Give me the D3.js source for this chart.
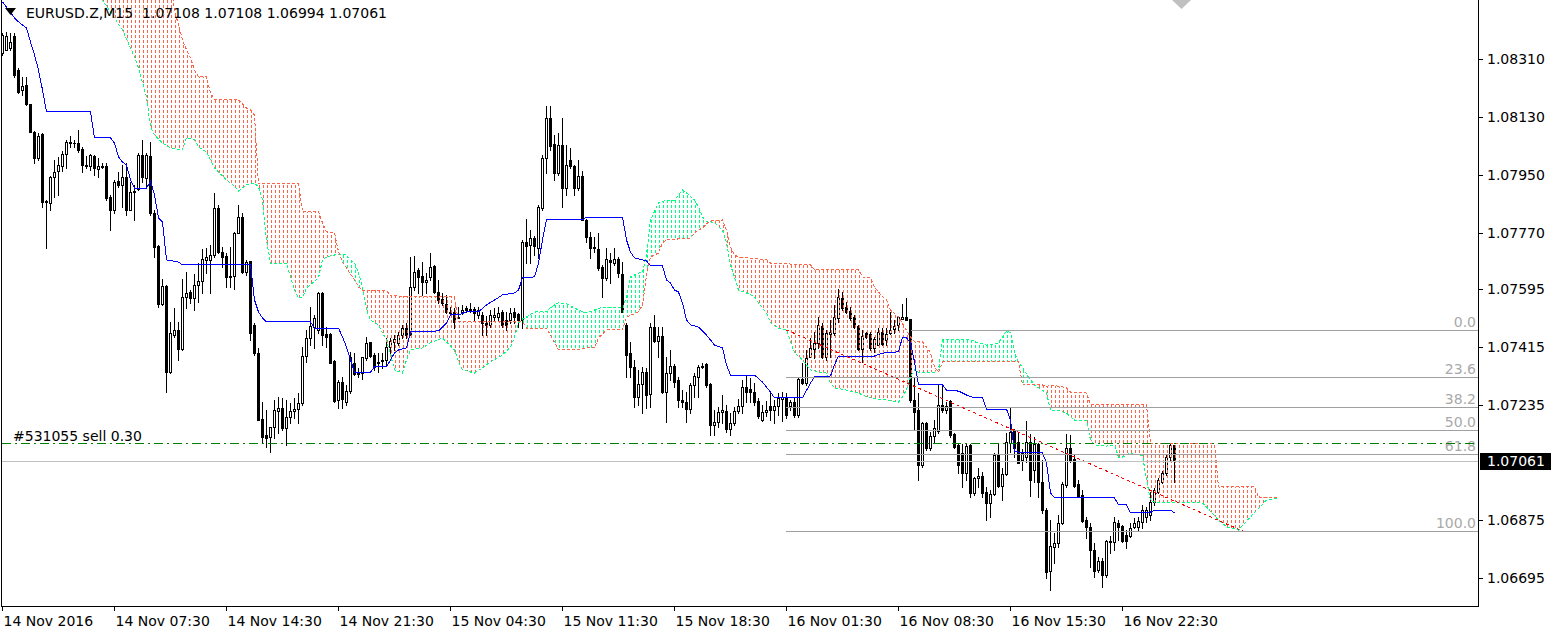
<!DOCTYPE html>
<html><head><meta charset="utf-8">
<script src="https://cdn.jsdelivr.net/npm/d3@7/dist/d3.min.js"></script>
<style>
body{margin:0;background:#fff;}
svg{display:block;}
text{font-family:"DejaVu Sans",sans-serif;font-size:14px;white-space:pre;}
</style>
</head><body>
<svg id="c" width="1557" height="633"></svg>
<script>
// ---------- DATA ----------
const opens=[1.08328,1.08338,1.08344,1.08381,1.08275,1.08213,1.08229,1.08170,1.08083,1.08002,
1.08076,1.07865,1.07862,1.07943,1.07961,1.07977,1.08014,1.08052,1.08048,1.08048,
1.08030,1.07977,1.07977,1.08008,1.07968,1.07977,1.07977,1.07880,1.07840,1.07930,
1.07918,1.07943,1.07840,1.07896,1.07905,1.08011,1.07940,1.08008,1.07831,1.07728,
1.07548,1.07604,1.07336,1.07451,1.07467,1.07408,1.07570,1.07585,1.07566,1.07607,
1.07619,1.07685,1.07685,1.07700,1.07846,1.07709,1.07697,1.07632,1.07635,1.07769,
1.07818,1.07647,1.07682,1.07483,1.07395,1.07190,1.07141,1.07134,1.07165,1.07215,
1.07224,1.07162,1.07196,1.07215,1.07221,1.07240,1.07386,1.07442,1.07476,1.07467,
1.07582,1.07455,1.07455,1.07371,1.07249,1.07305,1.07243,1.07277,1.07364,1.07333,
1.07333,1.07380,1.07430,1.07389,1.07364,1.07374,1.07374,1.07414,1.07430,1.07427,
1.07451,1.07473,1.07455,1.07601,1.07654,1.07635,1.07616,1.07632,1.07666,1.07585,
1.07563,1.07548,1.07523,1.07523,1.07504,1.07523,1.07535,1.07529,1.07532,1.07514,
1.07514,1.07489,1.07483,1.07507,1.07507,1.07523,1.07498,1.07498,1.07523,1.07517,
1.07498,1.07741,1.07731,1.07753,1.07722,1.07846,1.08002,1.08126,1.08045,1.07955,
1.08042,1.07908,1.07996,1.07977,1.07908,1.07946,1.07809,1.07756,1.07725,1.07719,
1.07663,1.07629,1.07685,1.07675,1.07688,1.07641,1.07483,1.07395,1.07352,1.07259,
1.07299,1.07336,1.07268,1.07476,1.07433,1.07448,1.07274,1.07333,1.07355,1.07312,
1.07249,1.07243,1.07221,1.07296,1.07321,1.07352,1.07361,1.07299,1.07172,1.07181,
1.07212,1.07215,1.07159,1.07178,1.07215,1.07231,1.07290,1.07284,1.07274,1.07246,
1.07187,1.07212,1.07231,1.07218,1.07231,1.07252,1.07259,1.07231,1.07243,1.07203,
1.07315,1.07302,1.07383,1.07408,1.07427,1.07479,1.07383,1.07455,1.07458,1.07504,
1.07566,1.07538,1.07526,1.07507,1.07479,1.07408,1.07458,1.07455,1.07411,1.07420,
1.07461,1.07436,1.07458,1.07470,1.07483,1.07501,1.07507,1.07501,1.07249,1.07218,
1.07047,1.07178,1.07100,1.07137,1.07153,1.07234,1.07218,1.07246,1.07144,1.07109,
1.07085,1.07022,1.07109,1.06960,1.07007,1.07013,1.06963,1.06929,1.06957,1.07078,
1.06982,1.07019,1.07116,1.07156,1.07119,1.07063,1.07072,1.07119,1.07032,1.07113,
1.06994,1.06907,1.06718,1.06792,1.06805,1.06867,1.06985,1.07100,1.07066,1.06988,
1.06954,1.06876,1.06855,1.06783,1.06721,1.06749,1.06705,1.06808,1.06808,1.06867,
1.06858,1.06830,1.06827,1.06855,1.06855,1.06870,1.06886,1.06892,1.06932,1.06963,
1.06994,1.07022,1.07072,1.07108];
const highs=[1.08390,1.08394,1.08390,1.08390,1.08282,1.08254,1.08254,1.08170,1.08086,1.08080,
1.08080,1.07871,1.07946,1.07996,1.08005,1.08024,1.08058,1.08070,1.08058,1.08089,
1.08036,1.08008,1.08014,1.08011,1.08002,1.07986,1.07986,1.07887,1.07933,1.07958,
1.07980,1.07986,1.07927,1.07918,1.08017,1.08058,1.08017,1.08052,1.07840,1.07731,
1.07626,1.07607,1.07492,1.07535,1.07492,1.07626,1.07647,1.07591,1.07641,1.07675,
1.07719,1.07722,1.07731,1.07893,1.07856,1.07725,1.07706,1.07725,1.07772,1.07856,
1.07831,1.07685,1.07682,1.07489,1.07411,1.07243,1.07218,1.07165,1.07249,1.07259,
1.07256,1.07249,1.07240,1.07256,1.07271,1.07414,1.07467,1.07538,1.07514,1.07585,
1.07585,1.07476,1.07458,1.07374,1.07312,1.07321,1.07296,1.07399,1.07396,1.07349,
1.07383,1.07445,1.07430,1.07395,1.07395,1.07395,1.07442,1.07442,1.07451,1.07461,
1.07483,1.07489,1.07694,1.07697,1.07660,1.07678,1.07644,1.07706,1.07669,1.07622,
1.07582,1.07576,1.07538,1.07535,1.07538,1.07545,1.07542,1.07551,1.07538,1.07538,
1.07523,1.07511,1.07529,1.07535,1.07538,1.07529,1.07523,1.07535,1.07535,1.07520,
1.07747,1.07812,1.07778,1.07759,1.07856,1.08011,1.08163,1.08163,1.08073,1.08080,
1.08126,1.08042,1.08033,1.07980,1.07996,1.07961,1.07812,1.07772,1.07756,1.07769,
1.07669,1.07722,1.07706,1.07722,1.07694,1.07678,1.07489,1.07430,1.07374,1.07343,
1.07352,1.07349,1.07489,1.07514,1.07476,1.07476,1.07383,1.07405,1.07361,1.07321,
1.07280,1.07274,1.07302,1.07333,1.07358,1.07364,1.07364,1.07302,1.07218,1.07228,
1.07265,1.07234,1.07209,1.07228,1.07252,1.07312,1.07324,1.07318,1.07302,1.07256,
1.07234,1.07246,1.07271,1.07249,1.07271,1.07274,1.07271,1.07249,1.07256,1.07318,
1.07364,1.07405,1.07442,1.07461,1.07507,1.07489,1.07467,1.07498,1.07545,1.07594,
1.07585,1.07554,1.07538,1.07514,1.07483,1.07467,1.07461,1.07461,1.07445,1.07473,
1.07473,1.07473,1.07523,1.07498,1.07511,1.07548,1.07566,1.07501,1.07321,1.07271,
1.07181,1.07181,1.07150,1.07187,1.07299,1.07299,1.07243,1.07249,1.07147,1.07116,
1.07113,1.07113,1.07113,1.07010,1.07038,1.07026,1.06979,1.06970,1.07085,1.07113,
1.07038,1.07147,1.07224,1.07159,1.07150,1.07097,1.07184,1.07144,1.07134,1.07116,
1.07063,1.06914,1.06876,1.06836,1.06892,1.06994,1.07144,1.07141,1.07078,1.07001,
1.06970,1.06886,1.06867,1.06805,1.06761,1.06758,1.06814,1.06827,1.06886,1.06876,
1.06861,1.06845,1.06867,1.06883,1.06886,1.06923,1.06917,1.06963,1.06976,1.07007,
1.07029,1.07078,1.07116,1.07108];
const lows=[1.08322,1.08338,1.08338,1.08254,1.08204,1.08198,1.08167,1.08083,1.07986,1.07996,
1.07849,1.07722,1.07840,1.07880,1.07887,1.07961,1.07971,1.08036,1.08036,1.08020,
1.07958,1.07971,1.07964,1.07949,1.07943,1.07971,1.07871,1.07778,1.07831,1.07912,
1.07849,1.07825,1.07840,1.07809,1.07902,1.07927,1.07912,1.07825,1.07694,1.07538,
1.07545,1.07274,1.07333,1.07445,1.07374,1.07405,1.07535,1.07551,1.07529,1.07554,
1.07582,1.07644,1.07582,1.07694,1.07706,1.07663,1.07601,1.07601,1.07594,1.07769,
1.07644,1.07638,1.07436,1.07389,1.07187,1.07116,1.07103,1.07088,1.07131,1.07147,
1.07156,1.07109,1.07178,1.07193,1.07178,1.07234,1.07367,1.07420,1.07411,1.07458,
1.07420,1.07414,1.07364,1.07243,1.07224,1.07224,1.07234,1.07271,1.07327,1.07321,
1.07315,1.07374,1.07383,1.07343,1.07336,1.07349,1.07358,1.07395,1.07405,1.07420,
1.07442,1.07442,1.07451,1.07591,1.07582,1.07576,1.07582,1.07622,1.07582,1.07551,
1.07545,1.07520,1.07520,1.07473,1.07504,1.07517,1.07523,1.07523,1.07498,1.07504,
1.07451,1.07451,1.07476,1.07498,1.07498,1.07476,1.07467,1.07489,1.07489,1.07476,
1.07473,1.07675,1.07675,1.07700,1.07691,1.07840,1.07955,1.08027,1.07933,1.07949,
1.07849,1.07887,1.07971,1.07887,1.07902,1.07809,1.07741,1.07691,1.07709,1.07654,
1.07570,1.07622,1.07613,1.07669,1.07632,1.07523,1.07321,1.07321,1.07228,1.07234,
1.07209,1.07224,1.07228,1.07430,1.07383,1.07271,1.07181,1.07312,1.07290,1.07228,
1.07228,1.07181,1.07209,1.07259,1.07259,1.07349,1.07290,1.07141,1.07141,1.07165,
1.07178,1.07150,1.07141,1.07172,1.07209,1.07209,1.07243,1.07243,1.07234,1.07193,
1.07184,1.07200,1.07187,1.07178,1.07203,1.07184,1.07193,1.07218,1.07197,1.07197,
1.07299,1.07296,1.07383,1.07380,1.07411,1.07380,1.07374,1.07383,1.07451,1.07492,
1.07529,1.07520,1.07498,1.07473,1.07405,1.07367,1.07442,1.07405,1.07399,1.07420,
1.07420,1.07420,1.07455,1.07458,1.07467,1.07501,1.07498,1.07243,1.07156,1.07001,
1.07041,1.07094,1.07094,1.07116,1.07147,1.07212,1.07209,1.07134,1.07100,1.07022,
1.06979,1.07001,1.06948,1.06954,1.06979,1.06948,1.06876,1.06886,1.06954,1.06979,
1.06938,1.07016,1.07088,1.07072,1.07053,1.07032,1.07057,1.06951,1.06994,1.06948,
1.06898,1.06696,1.06659,1.06743,1.06792,1.06864,1.06979,1.07057,1.06979,1.06948,
1.06870,1.06820,1.06730,1.06699,1.06715,1.06668,1.06699,1.06774,1.06783,1.06814,
1.06808,1.06789,1.06823,1.06851,1.06845,1.06851,1.06870,1.06876,1.06923,1.06960,
1.06991,1.07016,1.07063,1.06994];
const closes=[1.08384,1.08381,1.08362,1.08260,1.08207,1.08226,1.08170,1.08083,1.08002,1.08070,
1.07865,1.07868,1.07943,1.07958,1.07980,1.08014,1.08052,1.08048,1.08047,1.08027,
1.07980,1.07980,1.08011,1.07971,1.07977,1.07974,1.07877,1.07840,1.07927,1.07918,
1.07943,1.07840,1.07896,1.07899,1.08011,1.07943,1.08011,1.07831,1.07725,1.07548,
1.07604,1.07336,1.07458,1.07467,1.07408,1.07570,1.07582,1.07566,1.07607,1.07619,
1.07688,1.07694,1.07700,1.07846,1.07709,1.07694,1.07632,1.07635,1.07769,1.07818,
1.07647,1.07678,1.07458,1.07395,1.07187,1.07134,1.07131,1.07165,1.07218,1.07224,
1.07162,1.07196,1.07215,1.07221,1.07240,1.07386,1.07442,1.07479,1.07504,1.07582,
1.07451,1.07445,1.07364,1.07246,1.07305,1.07252,1.07277,1.07383,1.07330,1.07330,
1.07383,1.07427,1.07386,1.07352,1.07368,1.07372,1.07414,1.07433,1.07439,1.07451,
1.07473,1.07451,1.07601,1.07647,1.07632,1.07616,1.07622,1.07663,1.07585,1.07560,
1.07551,1.07523,1.07521,1.07492,1.07507,1.07529,1.07529,1.07532,1.07520,1.07529,
1.07489,1.07483,1.07514,1.07514,1.07520,1.07483,1.07483,1.07520,1.07507,1.07498,
1.07741,1.07728,1.07753,1.07728,1.07849,1.08002,1.08126,1.08039,1.07955,1.08042,
1.07908,1.07980,1.07977,1.07908,1.07946,1.07809,1.07756,1.07722,1.07722,1.07660,
1.07629,1.07688,1.07678,1.07688,1.07644,1.07523,1.07389,1.07352,1.07259,1.07299,
1.07336,1.07265,1.07476,1.07433,1.07448,1.07274,1.07333,1.07355,1.07305,1.07249,
1.07243,1.07221,1.07296,1.07324,1.07352,1.07355,1.07296,1.07172,1.07181,1.07212,
1.07218,1.07159,1.07178,1.07215,1.07231,1.07290,1.07274,1.07274,1.07243,1.07200,
1.07212,1.07218,1.07218,1.07231,1.07256,1.07259,1.07203,1.07243,1.07203,1.07315,
1.07302,1.07380,1.07411,1.07427,1.07483,1.07383,1.07458,1.07461,1.07507,1.07570,
1.07535,1.07523,1.07504,1.07476,1.07408,1.07448,1.07445,1.07411,1.07439,1.07461,
1.07423,1.07455,1.07467,1.07479,1.07507,1.07507,1.07498,1.07249,1.07212,1.07047,
1.07178,1.07100,1.07137,1.07162,1.07234,1.07218,1.07231,1.07141,1.07103,1.07047,
1.07022,1.07106,1.06960,1.07007,1.07013,1.06960,1.06929,1.06957,1.07078,1.06982,
1.07019,1.07119,1.07150,1.07100,1.07053,1.07085,1.07119,1.07001,1.07113,1.06994,
1.06907,1.06715,1.06796,1.06805,1.06867,1.06988,1.07100,1.07063,1.06982,1.06951,
1.06873,1.06855,1.06783,1.06718,1.06749,1.06705,1.06811,1.06811,1.06870,1.06855,
1.06811,1.06811,1.06851,1.06867,1.06873,1.06907,1.06907,1.06932,1.06970,1.07001,
1.07022,1.07072,1.07109,1.07061];

// Kijun-sen (blue), [bar, price]
const kijun=[[0,1.08487],[1,1.08471],[3,1.08437],[4,1.08425],[5,1.08415],[6,1.08406],[7,1.08362],[8,1.08322],[9,1.08275],[10,1.08213],[11,1.08145],[22,1.08145],[23,1.08064],[27,1.08064],[28,1.08048],[29,1.08005],[30,1.07989],[31,1.07980],[32,1.07933],[33,1.07908],[36,1.07908],[37,1.07930],[38,1.07887],[39,1.07815],[40,1.07803],[41,1.07685],[44,1.07678],[45,1.07669],[62,1.07669],[63,1.07560],[64,1.07523],[65,1.07504],[66,1.07492],[77,1.07492],[78,1.07473],[84,1.07473],[85,1.07445],[86,1.07414],[87,1.07374],[88,1.07336],[92,1.07336],[93,1.07352],[96,1.07352],[97,1.07374],[98,1.07395],[99,1.07405],[101,1.07411],[102,1.07461],[109,1.07464],[111,1.07489],[112,1.07514],[114,1.07514],[116,1.07523],[119,1.07523],[121,1.07545],[123,1.07560],[125,1.07576],[128,1.07582],[129,1.07591],[130,1.07629],[133,1.07632],[134,1.07675],[135,1.07747],[136,1.07809],[145,1.07809],[146,1.07818],[155,1.07818],[156,1.07747],[157,1.07709],[158,1.07691],[161,1.07682],[162,1.07666],[165,1.07666],[166,1.07622],[167,1.07613],[168,1.07591],[169,1.07585],[170,1.07551],[171,1.07498],[172,1.07483],[174,1.07476],[176,1.07451],[177,1.07436],[178,1.07420],[180,1.07411],[181,1.07358],[182,1.07327],[188,1.07327],[190,1.07305],[192,1.07274],[193,1.07256],[200,1.07256],[202,1.07302],[203,1.07321],[207,1.07324],[208,1.07358],[209,1.07386],[218,1.07386],[220,1.07395],[224,1.07399],[225,1.07445],[226,1.07442],[227,1.07427],[228,1.07368],[229,1.07296],[235,1.07296],[236,1.07280],[239,1.07277],[242,1.07259],[245,1.07256],[246,1.07221],[251,1.07221],[252,1.07187],[253,1.07088],[260,1.07085],[261,1.07053],[262,1.06960],[263,1.06945],[278,1.06945],[279,1.06923],[281,1.06923],[282,1.06898],[287,1.06901],[288,1.06907],[292,1.06907],[293,1.06898]];

// Senkou Span A (spring green) and Span B (tomato), [bar, price]
const senkouA=[[20,1.08586],[25,1.08493],[28,1.08437],[30,1.08400],[33,1.08316],[34,1.08282],[36,1.08191],[37,1.08098],[38,1.08073],[40,1.08048],[42,1.08033],[45,1.08027],[46,1.08064],[48,1.08058],[49,1.08036],[51,1.08020],[53,1.07971],[56,1.07933],[58,1.07915],[59,1.07899],[61,1.07918],[63,1.07924],[64,1.07912],[65,1.07871],[66,1.07747],[67,1.07675],[71,1.07675],[72,1.07632],[73,1.07591],[74,1.07567],[75,1.07567],[76,1.07598],[77,1.07607],[79,1.07629],[80,1.07685],[81,1.07694],[84,1.07703],[86,1.07700],[87,1.07685],[88,1.07675],[89,1.07644],[90,1.07601],[91,1.07529],[92,1.07498],[94,1.07483],[95,1.07458],[96,1.07436],[98,1.07343],[100,1.07333],[101,1.07374],[102,1.07405],[105,1.07411],[107,1.07427],[110,1.07442],[111,1.07430],[113,1.07405],[114,1.07368],[115,1.07343],[118,1.07333],[120,1.07349],[122,1.07368],[125,1.07389],[127,1.07414],[128,1.07445],[129,1.07489],[130,1.07501],[131,1.07507],[133,1.07523],[136,1.07523],[137,1.07538],[139,1.07551],[141,1.07548],[144,1.07529],[146,1.07520],[148,1.07529],[150,1.07538],[153,1.07538],[155,1.07535],[156,1.07570],[157,1.07632],[159,1.07644],[160,1.07647],[161,1.07700],[162,1.07809],[164,1.07862],[166,1.07871],[168,1.07871],[170,1.07902],[171,1.07893],[173,1.07871],[174,1.07849],[175,1.07818],[176,1.07803],[177,1.07803],[178,1.07800],[180,1.07778],[181,1.07738],[182,1.07669],[183,1.07632],[184,1.07591],[186,1.07582],[188,1.07570],[189,1.07551],[191,1.07520],[192,1.07489],[194,1.07473],[196,1.07467],[198,1.07396],[200,1.07374],[202,1.07343],[204,1.07336],[206,1.07333],[207,1.07302],[208,1.07287],[211,1.07280],[214,1.07271],[216,1.07259],[218,1.07253],[221,1.07249],[224,1.07243],[225,1.07259],[226,1.07280],[227,1.07321],[228,1.07343],[229,1.07336],[233,1.07336],[234,1.07343],[235,1.07436],[242,1.07436],[244,1.07427],[246,1.07420],[248,1.07424],[249,1.07427],[250,1.07445],[251,1.07464],[252,1.07458],[253,1.07396],[254,1.07368],[258,1.07296],[261,1.07271],[262,1.07218],[264,1.07218],[265,1.07212],[266,1.07209],[267,1.07197],[268,1.07187],[271,1.07187],[272,1.07125],[273,1.07110],[276,1.07106],[278,1.07110],[279,1.07072],[280,1.07072],[282,1.07085],[284,1.07078],[285,1.07078],[286,1.07001],[287,1.06938],[288,1.06932],[296,1.06932],[300,1.06929],[301,1.06917],[304,1.06876],[306,1.06855],[309,1.06845],[312,1.06886],[316,1.06938],[319,1.06945]];
const senkouB=[[20,1.08742],[42,1.08555],[43,1.08462],[44,1.08415],[45,1.08369],[46,1.08338],[47,1.08313],[48,1.08275],[49,1.08254],[51,1.08254],[52,1.08204],[53,1.08182],[59,1.08182],[60,1.08170],[61,1.08157],[62,1.08151],[63,1.08135],[64,1.07921],[74,1.07921],[75,1.07834],[79,1.07834],[80,1.07800],[81,1.07772],[83,1.07769],[84,1.07710],[85,1.07678],[86,1.07660],[87,1.07641],[88,1.07622],[89,1.07601],[90,1.07591],[96,1.07591],[97,1.07573],[113,1.07570],[114,1.07492],[130,1.07492],[131,1.07473],[136,1.07473],[137,1.07451],[139,1.07405],[143,1.07405],[146,1.07411],[148,1.07411],[149,1.07442],[151,1.07467],[155,1.07467],[156,1.07507],[159,1.07523],[160,1.07545],[161,1.07638],[162,1.07694],[164,1.07706],[165,1.07738],[166,1.07747],[172,1.07753],[173,1.07769],[174,1.07778],[175,1.07784],[176,1.07797],[177,1.07806],[180,1.07809],[181,1.07778],[182,1.07725],[183,1.07700],[184,1.07694],[191,1.07685],[192,1.07675],[202,1.07669],[203,1.07654],[214,1.07654],[215,1.07632],[217,1.07629],[218,1.07601],[220,1.07570],[221,1.07560],[222,1.07529],[224,1.07507],[227,1.07445],[228,1.07430],[230,1.07430],[231,1.07414],[232,1.07396],[233,1.07352],[234,1.07336],[235,1.07368],[254,1.07368],[255,1.07296],[260,1.07296],[261,1.07290],[262,1.07296],[265,1.07290],[266,1.07287],[267,1.07274],[271,1.07271],[272,1.07234],[286,1.07234],[287,1.07113],[303,1.07113],[304,1.06979],[313,1.06979],[314,1.06948],[319,1.06945]];

const priceTicks=[1.08310,1.08130,1.07950,1.07770,1.07595,1.07415,1.07235,1.06875,1.06695];
const timeLabels=[[0,"14 Nov 2016"],[28,"14 Nov 07:30"],[56,"14 Nov 14:30"],[84,"14 Nov 21:30"],[112,"15 Nov 04:30"],[140,"15 Nov 11:30"],[168,"15 Nov 18:30"],[196,"16 Nov 01:30"],[224,"16 Nov 08:30"],[252,"16 Nov 15:30"],[280,"16 Nov 22:30"]];
const fibLevels=[0,23.6,38.2,50,61.8,100];
const fibPrice0=1.07467, fibPrice100=1.06842, fibBar0=196, fibBar100=310, fibZeroStartBar=227;
const bidPrice=1.07061;
const orderPrice=1.07116, orderLabel="#531055 sell 0.30";
const header="EURUSD.Z,M15  1.07108 1.07108 1.06994 1.07061";

// ---------- SCALES ----------
const plotL=2, plotR=1478, plotB=605.5;
const x=d3.scaleLinear().domain([0,1]).range([2.5,6.5]);
const y=d3.scaleLinear().domain([1.066098,1.084928]).range([605.7,0]);
const py=v=>Math.round(y(v))+0.5;

const svg=d3.select("#c");
const defs=svg.append("defs");
defs.append("clipPath").attr("id","plotClip").append("rect")
  .attr("x",plotL).attr("y",0).attr("width",plotR-plotL).attr("height",plotB);

const RED="#FF6347", GREEN="#00FF7F";
const ptsA=senkouA.map(d=>[x(d[0]),y(d[1])]);
const ptsB=senkouB.map(d=>[x(d[0]),y(d[1])]);
const x0=x(senkouA[0][0]), x1=x(senkouA[senkouA.length-1][0]);
const line=d3.line();
defs.append("clipPath").attr("id","belowB").append("path")
  .attr("d",line(ptsB.concat([[x1,2000],[x0,2000]]))+"Z");
defs.append("clipPath").attr("id","aboveB").append("path")
  .attr("d",line(ptsB.concat([[x1,-2000],[x0,-2000]]))+"Z");
defs.append("clipPath").attr("id","cloudClip").append("path")
  .attr("d",line(ptsA.concat(ptsB.slice().reverse()))+"Z");

const g=svg.append("g").attr("clip-path","url(#plotClip)");

// ---------- CANDLES ----------
const cg=g.append("g").attr("shape-rendering","crispEdges");
opens.forEach((o,i)=>{
  const c=closes[i], h=highs[i], l=lows[i], xc=x(i);
  cg.append("line").attr("x1",xc).attr("x2",xc)
    .attr("y1",Math.round(y(h))).attr("y2",Math.round(y(l))+1)
    .attr("stroke","#000").attr("stroke-width",1);
  const t=Math.round(y(Math.max(o,c))), b=Math.round(y(Math.min(o,c)));
  if(b-t<1){
    cg.append("line").attr("x1",xc-1.5).attr("x2",xc+1.5).attr("y1",t+0.5).attr("y2",t+0.5)
      .attr("stroke","#000");
  } else {
    cg.append("rect").attr("x",xc-1).attr("y",t+0.5).attr("width",2).attr("height",b-t)
      .attr("fill",c>=o?"#fff":"#000").attr("stroke","#000").attr("stroke-width",1);
  }
});

// ---------- ICHIMOKU CLOUD (dotted vertical hatching) ----------
let hatchD="";
for(let xx=x0+1;xx<=x1+1;xx+=4){hatchD+="M"+xx+",0V"+plotB;}
const kg=g.append("g");
kg.append("g").attr("clip-path","url(#cloudClip)")
  .append("g").attr("clip-path","url(#belowB)")
  .append("path").attr("d",hatchD).attr("stroke",RED).attr("stroke-dasharray","3,2")
  .attr("fill","none").attr("shape-rendering","crispEdges");
kg.append("g").attr("clip-path","url(#cloudClip)")
  .append("g").attr("clip-path","url(#aboveB)")
  .append("path").attr("d",hatchD).attr("stroke",GREEN).attr("stroke-dasharray","3,2")
  .attr("fill","none").attr("shape-rendering","crispEdges");
kg.append("path").attr("d",line(ptsA)).attr("fill","none").attr("stroke",GREEN)
  .attr("stroke-dasharray","3,2").attr("shape-rendering","crispEdges");
kg.append("path").attr("d",line(ptsB)).attr("fill","none").attr("stroke",RED)
  .attr("stroke-dasharray","3,2").attr("shape-rendering","crispEdges");
// Kijun
kg.append("path").attr("d",line(kijun.map(d=>[x(d[0]),y(d[1])]))).attr("fill","none")
  .attr("stroke","#0000FF").attr("stroke-width",1).attr("shape-rendering","crispEdges");

// ---------- FIBONACCI ----------
const fg=g.append("g");
fibLevels.forEach(lv=>{
  const p=fibPrice0-(fibPrice0-fibPrice100)*lv/100, yy=py(p);
  const xs=lv===0?x(fibZeroStartBar):x(fibBar0)-0.5;
  fg.append("line").attr("x1",xs).attr("x2",plotR).attr("y1",yy).attr("y2",yy)
    .attr("stroke","#A0A0A0").attr("shape-rendering","crispEdges");
  fg.append("text").attr("x",1476).attr("y",yy-4).attr("text-anchor","end")
    .attr("fill","#A9A9A9").text(lv.toFixed(1));
});
fg.append("line").attr("x1",x(fibBar0)).attr("y1",y(fibPrice0))
  .attr("x2",x(fibBar100)).attr("y2",y(fibPrice100))
  .attr("stroke","#FF0000").attr("stroke-dasharray","3,3").attr("shape-rendering","crispEdges");

// ---------- ORDER & BID LINES ----------
g.append("line").attr("x1",plotL).attr("x2",plotR).attr("y1",py(bidPrice)).attr("y2",py(bidPrice))
  .attr("stroke","#C0C0C0").attr("shape-rendering","crispEdges");
g.append("line").attr("x1",plotL).attr("x2",plotR).attr("y1",py(orderPrice)).attr("y2",py(orderPrice))
  .attr("stroke","#008000").attr("stroke-dasharray","9,4,2,4").attr("shape-rendering","crispEdges");
svg.append("text").attr("x",13).attr("y",py(orderPrice)-3).attr("fill","#000").text(orderLabel);

// ---------- AXES / FRAME ----------
const ag=svg.append("g").attr("shape-rendering","crispEdges");
ag.append("line").attr("x1",plotR+0.5).attr("x2",plotR+0.5).attr("y1",0).attr("y2",plotB+0.5).attr("stroke","#000");
ag.append("line").attr("x1",1.5).attr("x2",1.5).attr("y1",0).attr("y2",plotB+0.5).attr("stroke","#000");
ag.append("line").attr("x1",1).attr("x2",plotR+1).attr("y1",plotB+0.5).attr("y2",plotB+0.5).attr("stroke","#000");
priceTicks.forEach(p=>{
  const yy=py(p);
  ag.append("line").attr("x1",plotR+1).attr("x2",plotR+5).attr("y1",yy).attr("y2",yy).attr("stroke","#000");
  svg.append("text").attr("x",1487).attr("y",y(p)+5).attr("fill","#000").text(p.toFixed(5));
});
timeLabels.forEach(([b,t])=>{
  const xx=Math.round(x(b))-0.5;
  ag.append("line").attr("x1",xx).attr("x2",xx).attr("y1",plotB).attr("y2",plotB+5).attr("stroke","#000");
  svg.append("text").attr("x",xx+1).attr("y",626).attr("fill","#000").text(t);
});
// current price box
svg.append("rect").attr("x",plotR+2).attr("y",Math.round(y(bidPrice))-8).attr("width",71).attr("height",17).attr("fill","#000");
svg.append("text").attr("x",1487).attr("y",y(bidPrice)+5).attr("fill","#fff").text(bidPrice.toFixed(5));

// header
svg.append("path").attr("d","M5,8L16,8L10.5,15Z").attr("fill","#000");
svg.append("text").attr("x",26).attr("y",18).attr("fill","#000").text(header);
// chart shift marker
svg.append("path").attr("d","M1172,0L1191,0L1181.5,9Z").attr("fill","#C0C0C0");
</script>
</body></html>
